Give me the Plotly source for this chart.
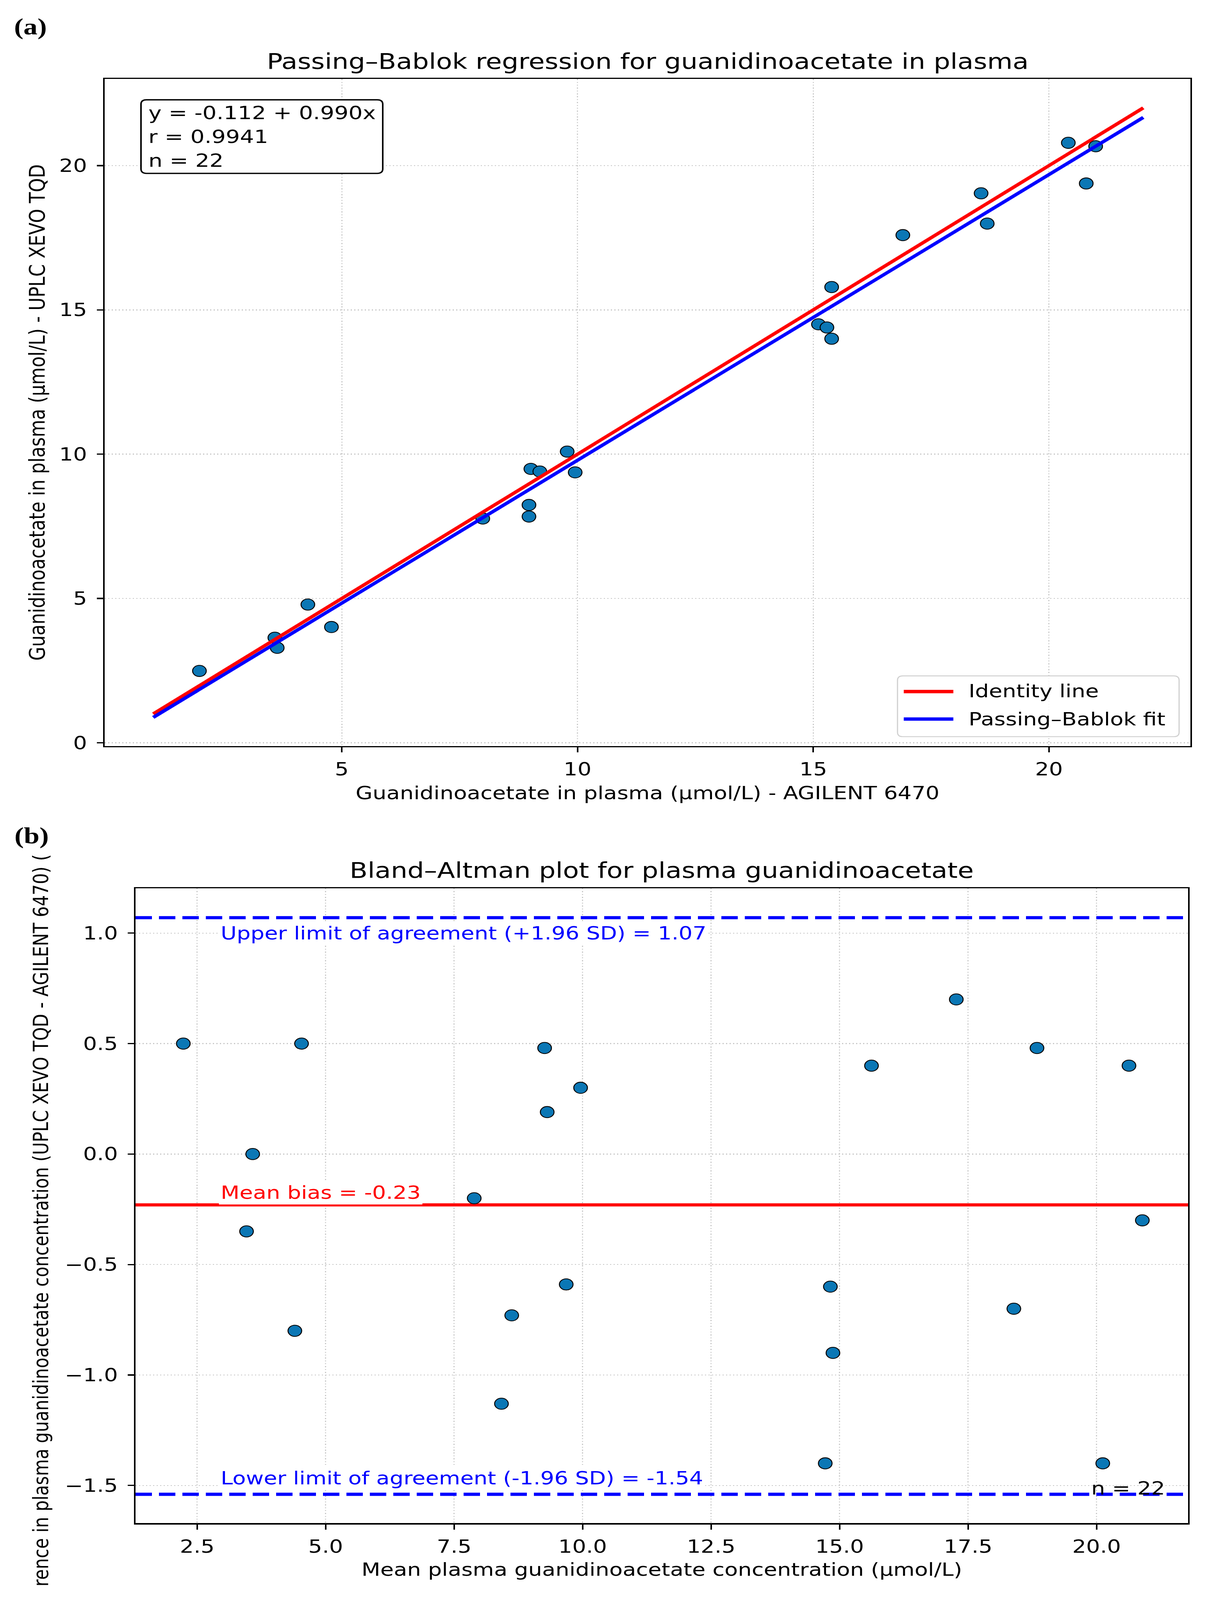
import plotly.graph_objects as go

# ---------------- Panel (a): Passing–Bablok regression ----------------
agilent_x = [20.41, 20.99, 20.79, 18.56, 18.69, 16.90, 15.39, 15.11, 15.29, 15.39,
             9.78, 9.01, 9.20, 9.95, 8.97, 8.97, 7.99, 4.28, 4.78, 3.58, 3.63, 1.98]
xevo_y = [20.79, 20.67, 19.38, 19.04, 17.99, 17.59, 15.79, 14.50, 14.39, 14.00,
          10.09, 9.49, 9.40, 9.37, 8.24, 7.84, 7.77, 4.79, 4.01, 3.64, 3.29, 2.49]
line_x = [1.0, 22.0]
identity_y = [1.0, 22.0]
fit_y = [0.878, 21.668]
a_xticks = [5, 10, 15, 20]
a_yticks = [0, 5, 10, 15, 20]
stats_lines = ["y = -0.112 + 0.990x", "r = 0.9941", "n = 22"]
legend_names = ["Identity line", "Passing–Bablok fit"]

# ---------------- Panel (b): Bland–Altman ----------------
ba_mean = [2.23, 4.53, 9.26, 9.31, 9.96, 3.58, 7.89, 15.62, 17.27, 18.84, 20.63,
           20.89, 3.46, 9.68, 14.82, 8.62, 18.39, 4.40, 14.87, 8.42, 14.72, 20.12]
ba_diff = [0.50, 0.50, 0.48, 0.19, 0.30, 0.00, -0.20, 0.40, 0.70, 0.48, 0.40,
           -0.30, -0.35, -0.59, -0.60, -0.73, -0.70, -0.80, -0.90, -1.13, -1.40, -1.40]
mean_bias = -0.23
upper_loa = 1.07
lower_loa = -1.54
n_pairs = 22
b_xticks = [2.5, 5.0, 7.5, 10.0, 12.5, 15.0, 17.5, 20.0]
b_yticks = [-1.5, -1.0, -0.5, 0.0, 0.5, 1.0]

FONT = "DejaVu Sans"
BLUE_PT = "#0b77b5"
RED = "#ff0000"
BLUE = "#0000ff"
W, H = 3093, 5002
A_XRANGE = [-0.03, 23.0]
A_YRANGE = [-0.11, 23.0]
B_XRANGE = [1.30, 21.78]
B_YRANGE = [-1.671, 1.203]


def px(x):
    return x / W


def py(y):
    return 1 - y / H


def rounded_box(x0, y0, x1, y1, r):
    """SVG path (paper coords) of a rounded rectangle given in figure pixels."""
    def P(x, y):
        return f"{px(x):.6f},{py(y):.6f}"
    return " ".join([
        f"M {P(x0 + r, y0)}", f"L {P(x1 - r, y0)}", f"Q {P(x1, y0)} {P(x1, y0 + r)}",
        f"L {P(x1, y1 - r)}", f"Q {P(x1, y1)} {P(x1 - r, y1)}", f"L {P(x0 + r, y1)}",
        f"Q {P(x0, y1)} {P(x0, y1 - r)}", f"L {P(x0, y0 + r)}",
        f"Q {P(x0, y0)} {P(x0 + r, y0)} Z"])


fig = go.Figure()

# Panel (a)
fig.add_trace(go.Scatter(x=agilent_x, y=xevo_y, mode="markers", showlegend=False,
                         marker=dict(size=35, color=BLUE_PT, line=dict(color="black", width=2.5)),
                         xaxis="x", yaxis="y"))
fig.add_trace(go.Scatter(x=line_x, y=identity_y, mode="lines", name=legend_names[0],
                         showlegend=False, line=dict(color=RED, width=10), xaxis="x", yaxis="y"))
fig.add_trace(go.Scatter(x=line_x, y=fit_y, mode="lines", name=legend_names[1],
                         showlegend=False, line=dict(color=BLUE, width=10), xaxis="x", yaxis="y"))

# Panel (b): reference lines spanning the axis, then the points
for val, col, dash, nm in [(mean_bias, RED, "solid", "Mean bias"),
                           (upper_loa, BLUE, "42px,18px", "Upper LoA"),
                           (lower_loa, BLUE, "42px,18px", "Lower LoA")]:
    fig.add_trace(go.Scatter(x=B_XRANGE, y=[val, val], mode="lines", name=nm, showlegend=False,
                             line=dict(color=col, width=10, dash=dash),
                             xaxis="x2", yaxis="y2", hoverinfo="skip"))
fig.add_trace(go.Scatter(x=ba_mean, y=ba_diff, mode="markers", showlegend=False,
                         marker=dict(size=35, color=BLUE_PT, line=dict(color="black", width=2.5)),
                         xaxis="x2", yaxis="y2"))


def axis_style(**kw):
    d = dict(showline=True, mirror=True, linecolor="black", linewidth=4,
             ticks="outside", ticklen=16, tickwidth=4, tickcolor="black",
             showgrid=True, gridcolor="#c6c6c6", gridwidth=3, griddash="3px,6px",
             zeroline=False, automargin=False,
             tickfont=dict(family=FONT, size=56, color="black"))
    d.update(kw)
    return d


fig.update_layout(
    width=W, height=H, template="none",
    margin=dict(l=0, r=0, t=0, b=0),
    paper_bgcolor="white", plot_bgcolor="white",
    font=dict(family=FONT, size=56, color="black"),
    showlegend=False,
    xaxis=axis_style(domain=[px(268), px(3048)], anchor="y", range=A_XRANGE,
                     tickvals=a_xticks, ticklabelstandoff=5,
                     title=dict(text="Guanidinoacetate in plasma (µmol/L) - AGILENT 6470",
                                font=dict(family=FONT, size=56, color="black"), standoff=24)),
    yaxis=axis_style(domain=[py(2332), py(247)], anchor="x", range=A_YRANGE,
                     tickvals=a_yticks, ticklabelstandoff=14,
                     title=dict(text="Guanidinoacetate in plasma (µmol/L) - UPLC XEVO TQD",
                                font=dict(family=FONT, size=56, color="black"), standoff=20)),
    xaxis2=axis_style(domain=[px(347), px(3042)], anchor="y2", range=B_XRANGE,
                      tickvals=b_xticks, tickformat=".1f", ticklabelstandoff=5,
                      title=dict(text="Mean plasma guanidinoacetate concentration (µmol/L)",
                                 font=dict(family=FONT, size=56, color="black"), standoff=22)),
    yaxis2=axis_style(domain=[py(4762), py(2777)], anchor="x2", range=B_YRANGE,
                      tickvals=b_yticks, tickformat=".1f", ticklabelstandoff=14),
)

# Stats box and manual legend box (rounded, as in the reference)
shapes = [
    dict(type="path", xref="paper", yref="paper", path=rounded_box(361, 312, 980, 542, 14),
         line=dict(color="black", width=4), fillcolor="white", layer="above"),
    dict(type="path", xref="paper", yref="paper", path=rounded_box(2298, 2113, 3019, 2303, 14),
         line=dict(color="#d0d0d0", width=3), fillcolor="rgba(255,255,255,0.85)", layer="above"),
    dict(type="line", xref="paper", yref="paper", x0=px(2314), x1=px(2441),
         y0=py(2162), y1=py(2162), line=dict(color=RED, width=10.5), layer="above"),
    dict(type="line", xref="paper", yref="paper", x0=px(2314), x1=px(2441),
         y0=py(2248), y1=py(2248), line=dict(color=BLUE, width=10.5), layer="above"),
]
fig.update_layout(shapes=shapes)

annotations = [
    dict(text="<b>(a)</b>", xref="paper", yref="paper", x=px(34), y=py(83),
         xanchor="left", yanchor="middle", showarrow=False,
         font=dict(family="Liberation Serif", size=72, color="black")),
    dict(text="<b>(b)</b>", xref="paper", yref="paper", x=px(35), y=py(2613),
         xanchor="left", yanchor="middle", showarrow=False,
         font=dict(family="Liberation Serif", size=72, color="black")),
    dict(text="Passing–Bablok regression for guanidinoacetate in plasma",
         xref="paper", yref="paper", x=px(1658), y=py(192),
         xanchor="center", yanchor="middle", showarrow=False,
         font=dict(family=FONT, size=67, color="black")),
    dict(text="Bland–Altman plot for plasma guanidinoacetate",
         xref="paper", yref="paper", x=px(1694), y=py(2721),
         xanchor="center", yanchor="middle", showarrow=False,
         font=dict(family=FONT, size=67, color="black")),
    # y-axis title of panel (b), cut off by the figure edges as in the reference
    dict(text="rence in plasma guanidinoacetate concentration (UPLC XEVO TQD - AGILENT 6470) (",
         xref="paper", yref="paper", x=px(104), y=py(3815), textangle=-90,
         xanchor="center", yanchor="middle", showarrow=False,
         font=dict(family=FONT, size=54, color="black")),
    dict(text="<br>".join(stats_lines), xref="paper", yref="paper",
         x=px(378), y=py(427), xanchor="left", yanchor="middle",
         align="left", showarrow=False, font=dict(family=FONT, size=57, color="black")),
    dict(text=legend_names[0], xref="paper", yref="paper", x=px(2478), y=py(2160),
         xanchor="left", yanchor="middle", showarrow=False,
         font=dict(family=FONT, size=56, color="black")),
    dict(text=legend_names[1], xref="paper", yref="paper", x=px(2478), y=py(2248),
         xanchor="left", yanchor="middle", showarrow=False,
         font=dict(family=FONT, size=56, color="black")),
    dict(text=f"Upper limit of agreement (+1.96 SD) = {upper_loa:.2f}", xref="x2", yref="y2",
         x=2.92, y=1.0, xanchor="left", yanchor="middle", showarrow=False,
         bgcolor="white", borderpad=4, font=dict(family=FONT, size=56, color=BLUE)),
    dict(text=f"Lower limit of agreement (-1.96 SD) = {lower_loa:.2f}", xref="x2", yref="y2",
         x=2.92, y=-1.467, xanchor="left", yanchor="middle", showarrow=False,
         bgcolor="white", borderpad=4, font=dict(family=FONT, size=56, color=BLUE)),
    dict(text=f"Mean bias = {mean_bias:.2f}", xref="x2", yref="y2",
         x=2.92, y=-0.174, xanchor="left", yanchor="middle", showarrow=False,
         bgcolor="white", borderpad=4, font=dict(family=FONT, size=56, color=RED)),
    dict(text=f"n = {n_pairs}", xref="x2 domain", yref="y2 domain", x=0.979, y=0.055,
         xanchor="right", yanchor="middle", showarrow=False,
         font=dict(family=FONT, size=56, color="black")),
]
fig.update_layout(annotations=annotations)

# The browser viewport can be shorter than the 3093x5002 figure (screen limited to 4096 px):
# remove the page margin and scale the plot to fit the visible window so nothing is cut off.
post = """
var gd = document.getElementById('{plot_id}');
document.body.style.margin = '0';
document.body.style.overflow = 'hidden';
var sy = Math.min(1, window.innerHeight / 5002);
var sx = Math.min(1, window.innerWidth / 3093);
if (sx < 1 || sy < 1) {
  gd.style.transformOrigin = '0 0';
  gd.style.transform = 'scale(' + sx + ',' + sy + ')';
}
"""
fig.write_html("out.html", post_script=post, config={"displayModeBar": False})
